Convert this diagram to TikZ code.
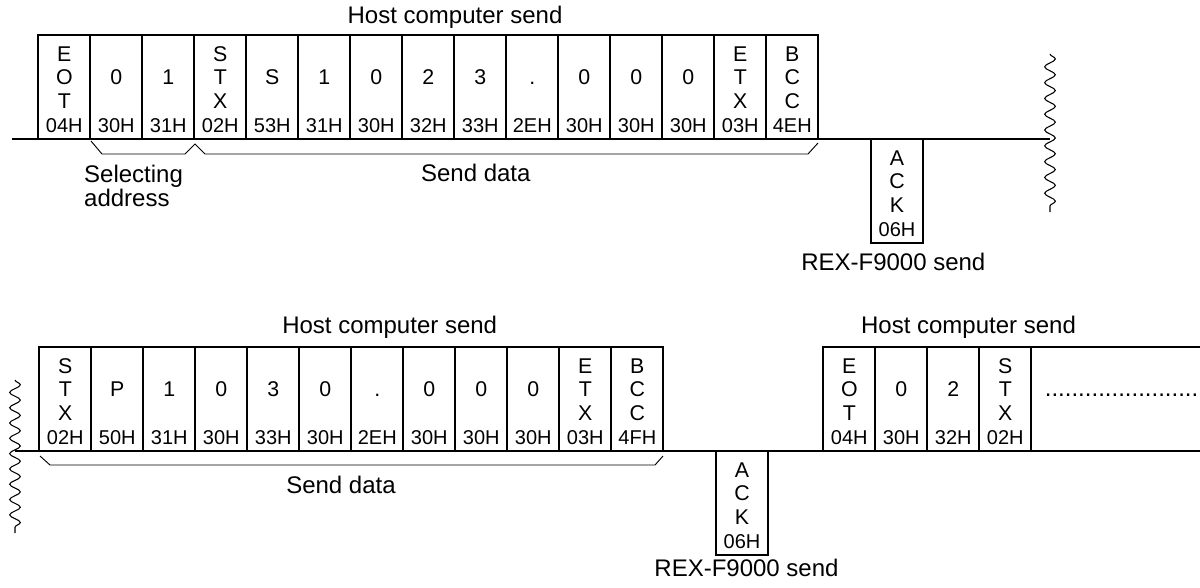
\documentclass[tikz,border=0pt]{standalone}
\usepackage{fontspec}
\setmainfont{Liberation Sans}
\usetikzlibrary{decorations.pathmorphing}

\begin{document}
\begin{tikzpicture}[x=0.75pt, y=-0.75pt, line width=1.3pt,
    cellbox/.style={draw, rectangle, minimum width=39pt, minimum height=78pt, inner sep=0pt, outer sep=0pt},
    chars/.style={inner sep=0pt, align=center, font=\fontsize{16}{17.5}\selectfont},
    hexcode/.style={inner sep=0pt, anchor=base, font=\fontsize{15}{17.5}\selectfont},
    msg/.style={inner sep=0pt, font=\fontsize{18}{17.5}\selectfont},
    spanline/.style={line width=0.7pt},
    wave/.style={line width=0.8pt, decorate, decoration={snake, amplitude=4pt, segment length=#1}}]

  \useasboundingbox (0,0) rectangle (1200,587);

  % time lines
  \draw (11.7,139) -- (1050,139);
  \draw (15,451) -- (1200,451);
  \draw[wave=11.85pt] (1050,54) -- (1050,212);
  \draw[wave=11.475pt] (15,380) -- (15,533);

  % first telegram
  \node[msg, anchor=base] (host1) at (455,23.5) {Host computer send};
  \foreach \txt/\hx [count=\i from 0] in {{E\\O\\T}/04H, 0/30H, 1/31H, {S\\T\\X}/02H, S/53H, 1/31H, 0/30H, 2/32H, 3/33H, {\vphantom{0}.}/2EH, 0/30H, 0/30H, 0/30H, {E\\T\\X}/03H, {B\\C\\C}/4EH}{
    \node[cellbox] (a\i) at ({64.3+52*\i}, 87) {};
    \node[chars] (a\i-txt) at ([yshift=-31.9pt]a\i.north) {\txt};
    \node[hexcode] (a\i-hex) at ([yshift=4.9pt]a\i.south) {\hx};
  }
  \draw[spanline] (91,141) -- (102,154) -- (185,154) -- (195,144) -- (205,154) -- (808,154) -- (818,143);
  \node[msg, anchor=north west, align=left] (seladdr) at (83.3,164.5) {Selecting\\address};
  \node[msg, anchor=base] (senddata1) at (475.8,181.7) {Send data};

  % answer
  \node[cellbox] (ack1) at (897,191) {};
  \node[chars] (ack1-txt) at ([yshift=-31.9pt]ack1.north) {A\\C\\K};
  \node[hexcode] (ack1-hex) at ([yshift=4.9pt]ack1.south) {06H};
  \node[msg, anchor=base] (rex1) at (893.3,270.7) {REX-F9000 send};

  % second telegram
  \node[msg, anchor=base] (host2) at (389.7,333.3) {Host computer send};
  \foreach \txt/\hx [count=\i from 0] in {{S\\T\\X}/02H, P/50H, 1/31H, 0/30H, 3/33H, 0/30H, {\vphantom{0}.}/2EH, 0/30H, 0/30H, 0/30H, {E\\T\\X}/03H, {B\\C\\C}/4FH}{
    \node[cellbox] (b\i) at ({65.3+52*\i}, 399) {};
    \node[chars] (b\i-txt) at ([yshift=-31.9pt]b\i.north) {\txt};
    \node[hexcode] (b\i-hex) at ([yshift=4.9pt]b\i.south) {\hx};
  }
  \draw[spanline] (40,456) -- (50,465) -- (655,465) -- (663,456);
  \node[msg, anchor=base] (senddata2) at (341,493.3) {Send data};

  \node[cellbox] (ack2) at (742,503) {};
  \node[chars] (ack2-txt) at ([yshift=-31.9pt]ack2.north) {A\\C\\K};
  \node[hexcode] (ack2-hex) at ([yshift=4.9pt]ack2.south) {06H};
  \node[msg, anchor=base] (rex2) at (746.5,576.7) {REX-F9000 send};

  % next telegram
  \node[msg, anchor=base] (host3) at (968.5,333.3) {Host computer send};
  \foreach \txt/\hx [count=\i from 0] in {{E\\O\\T}/04H, 0/30H, 2/32H, {S\\T\\X}/02H}{
    \node[cellbox] (c\i) at ({849.3+52*\i}, 399) {};
    \node[chars] (c\i-txt) at ([yshift=-31.9pt]c\i.north) {\txt};
    \node[hexcode] (c\i-hex) at ([yshift=4.9pt]c\i.south) {\hx};
  }
  \draw (c3.north east) -- (1200,347);
  \node[msg, anchor=base west] (more) at (1044,396) {.......................};
\end{tikzpicture}
\end{document}
